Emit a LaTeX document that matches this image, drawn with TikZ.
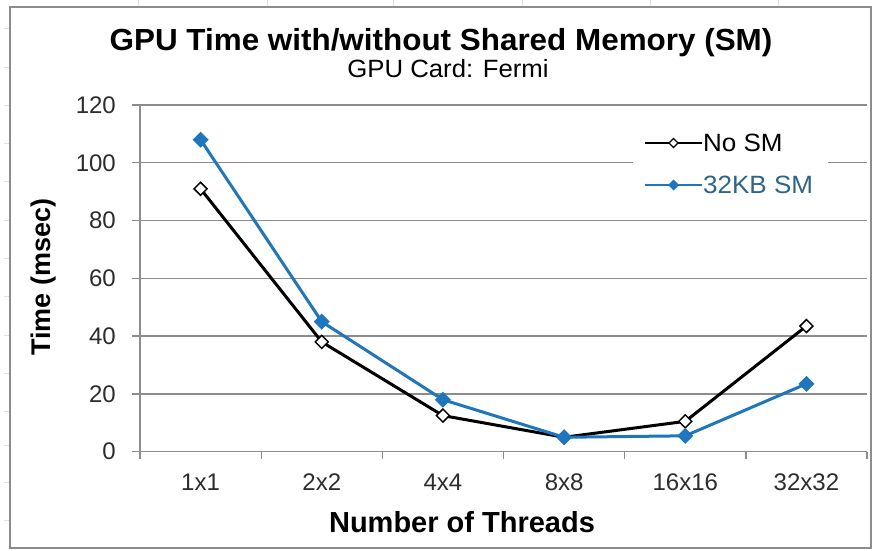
\documentclass[tikz,border=0pt]{standalone}
\usepackage{fontspec}
\setmainfont{Liberation Sans}
\usepackage{graphicx}
\usetikzlibrary{calc}
\definecolor{sblue}{RGB}{30,118,190}
\definecolor{gridc}{RGB}{140,140,140}
\definecolor{labc}{RGB}{45,45,45}
\definecolor{legblue}{RGB}{45,100,140}
\begin{document}
\begin{tikzpicture}[x=1pt,y=-1pt,
  gridline/.style={draw=gridc,line width=1.3pt},
  cellmark/.style={draw=gray!25,line width=0.8pt},
  ticklab/.style={inner sep=0pt,text=labc,font=\fontsize{24}{28}\selectfont},
  serblack/.style={draw=black,line width=3pt,line join=round},
  serblue/.style={draw=sblue,line width=3pt,line join=round},
  legtext/.style={inner sep=0pt,anchor=west,font=\fontsize{25}{28}\selectfont}]
\useasboundingbox (0,0) rectangle (873,550);
\fill[white] (0,0) rectangle (873,550);
% faint spreadsheet cell marks
\foreach \cx in {138,267,393,522,650,778} \draw[cellmark] (\cx,0) -- (\cx,7);
\foreach \cy in {28,67,105,143,181,220,258,296,335,373,411,445,482,520} \draw[cellmark] (4,\cy) -- (10,\cy);
% chart frame
\draw[draw=gridc,line width=1.5pt] (10,7) rectangle (871,548);
% gridlines
\foreach \v in {20,40,...,120} \draw[gridline] (132,{451.7-\v*2.889}) -- (867,{451.7-\v*2.889});
% axes
\draw[gridline] (140,105) -- (140,451.7);
\draw[gridline] (132,451.7) -- (867,451.7);
\foreach \i in {0,...,6} \draw[gridline] ({140+121.17*\i},451.7) -- ({140+121.17*\i},459);
% y tick labels
\foreach \v in {0,20,...,120} \node[ticklab,anchor=east] (yl\v) at (116,{451.7-\v*2.889}) {\v};
% x tick labels
\foreach \lab [count=\i from 0] in {1x1,2x2,4x4,8x8,16x16,32x32}
  \node[ticklab] (xl\i) at ({140+121.17*(\i+0.5)},482.5) {\lab};
% titles
\node[inner sep=0pt,anchor=base,font=\bfseries\fontsize{30.5}{34}\selectfont] (title) at (441,50) {\scalebox{1.03}[1]{GPU Time with/without Shared Memory (SM)}};
\node[inner sep=0pt,anchor=base,font=\fontsize{25}{28}\selectfont] (subtitle) at (448,77.5) {\scalebox{1.03}[1]{GPU Card: Fermi}};
\node[inner sep=0pt,font=\bfseries\fontsize{29}{32}\selectfont] (xtitle) at (462,522) {Number of Threads};
\node[inner sep=0pt,rotate=90,font=\bfseries\fontsize{27}{30}\selectfont] (ytitle) at (44,277) {Time (msec)};
% data
\def\nosm{91,38,12.5,5,10.5,43.5}
\def\smdata{108,45,18,5,5.5,23.5}
\foreach \v [count=\i from 0] in \nosm \coordinate (a\i) at ({140+121.17*(\i+0.5)},{451.7-\v*2.889});
\foreach \v [count=\i from 0] in \smdata \coordinate (b\i) at ({140+121.17*(\i+0.5)},{451.7-\v*2.889});
\draw[serblack] (a0) -- (a1) -- (a2) -- (a3) -- (a4) -- (a5);
\foreach \i in {0,...,5} \draw[fill=white,draw=black,line width=1.5pt] ($(a\i)+(0,-6.5)$) -- ($(a\i)+(6.5,0)$) -- ($(a\i)+(0,6.5)$) -- ($(a\i)+(-6.5,0)$) -- cycle;
\draw[serblue] (b0) -- (b1) -- (b2) -- (b3) -- (b4) -- (b5);
\foreach \i in {0,...,5} \fill[sblue] ($(b\i)+(0,-8)$) -- ($(b\i)+(8,0)$) -- ($(b\i)+(0,8)$) -- ($(b\i)+(-8,0)$) -- cycle;
% legend
\fill[white] (633,120) rectangle (828,205);
\coordinate (l1a) at (645,143); \coordinate (l1b) at (702,143);
\coordinate (l2a) at (645,185); \coordinate (l2b) at (702,185);
\draw[draw=black,line width=2.6pt] (l1a) -- (l1b);
\draw[fill=white,draw=black,line width=1.2pt] (669,143) -- (673.5,138.5) -- (678,143) -- (673.5,147.5) -- cycle;
\draw[draw=sblue,line width=2.6pt] (l2a) -- (l2b);
\fill[sblue] (668,185) -- (673.5,179.5) -- (679,185) -- (673.5,190.5) -- cycle;
\node[legtext] (leg1) at (703,143) {\scalebox{1.04}[1]{No SM}};
\node[legtext,text=legblue] (leg2) at (703,185) {\scalebox{1.04}[1]{32KB SM}};
\end{tikzpicture}
\end{document}
